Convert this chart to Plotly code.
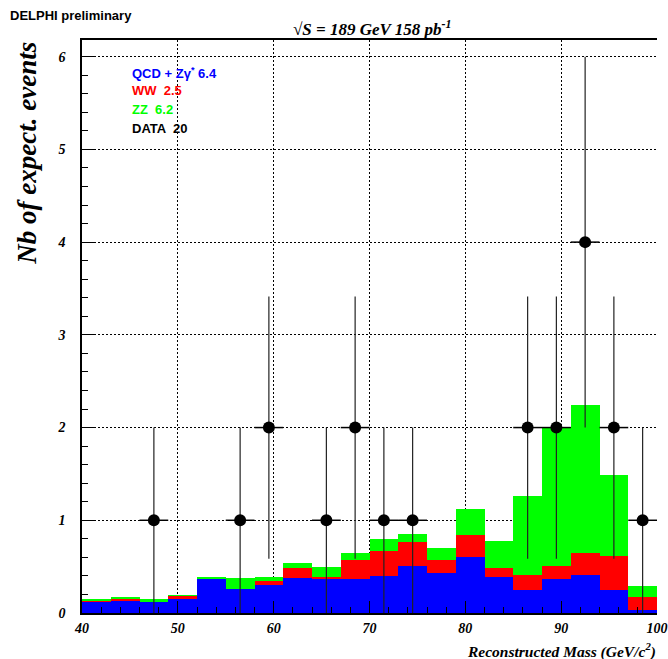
import plotly.graph_objects as go

# ---- data ----
bin_centers = [41.5, 44.5, 47.5, 50.5, 53.5, 56.5, 59.5, 62.5, 65.5, 68.5,
               71.5, 74.5, 77.5, 80.5, 83.5, 86.5, 89.5, 92.5, 95.5, 98.5]
qcd = [0.115, 0.133, 0.115, 0.151, 0.367, 0.26, 0.30, 0.374, 0.37, 0.37,
       0.40, 0.51, 0.436, 0.605, 0.39, 0.25, 0.37, 0.414, 0.25, 0.036]
ww = [0.022, 0.025, 0.0, 0.036, 0.0, 0.0, 0.04, 0.116, 0.02, 0.20,
      0.27, 0.26, 0.14, 0.24, 0.096, 0.164, 0.14, 0.23, 0.36, 0.134]
zz = [0.018, 0.018, 0.04, 0.005, 0.023, 0.12, 0.05, 0.054, 0.11, 0.074,
      0.13, 0.087, 0.124, 0.274, 0.294, 0.846, 1.49, 1.595, 0.875, 0.125]

data_x = [47.5, 56.5, 59.5, 65.5, 68.5, 71.5, 74.5, 86.5, 89.5, 92.5, 95.5, 98.5]
data_y = [1, 1, 2, 1, 2, 1, 1, 2, 2, 4, 2, 1]
data_err = [1.0, 1.0, 1.414, 1.0, 1.414, 1.0, 1.0, 1.414, 1.414, 2.0, 1.414, 1.0]

x_ticks = [40, 50, 60, 70, 80, 90, 100]
y_ticks = [0, 1, 2, 3, 4, 5, 6]

BIN_W = 3
BLUE, RED, GREEN = "#0000ff", "#ff0000", "#00ff00"

fig = go.Figure()
for vals, col in [(qcd, BLUE), (ww, RED), (zz, GREEN)]:
    fig.add_trace(go.Bar(x=bin_centers, y=vals, width=BIN_W,
                         marker=dict(color=col, line=dict(width=0)),
                         showlegend=False, hoverinfo="skip"))

fig.add_trace(go.Scatter(
    x=data_x, y=data_y, mode="markers",
    marker=dict(color="black", size=12, symbol="circle"),
    error_y=dict(type="data", array=data_err, arrayminus=data_err,
                 color="#222222", thickness=1.2, width=0),
    error_x=dict(type="constant", value=BIN_W / 2, color="black",
                 thickness=1.5, width=0),
    showlegend=False, hoverinfo="skip"))

tickfont = dict(family="Liberation Serif", size=14, color="black",
                weight="bold", style="italic")

fig.update_layout(
    width=668, height=659, autosize=False,
    margin=dict(l=82, r=11, t=40, b=46),
    plot_bgcolor="white", paper_bgcolor="white",
    barmode="stack", bargap=0,
    xaxis=dict(range=[40, 100], tickvals=x_ticks, ticktext=[str(v) for v in x_ticks],
               showline=True, linecolor="black", linewidth=1.5, mirror=True,
               ticks="inside", ticklen=12, tickcolor="black", tickwidth=1,
               minor=dict(dtick=2, ticks="inside", ticklen=6, tickcolor="black",
                          showgrid=False),
               showgrid=True, gridcolor="black", griddash="2px,2px", gridwidth=1,
               zeroline=False, tickfont=tickfont, ticklabelstandoff=1,
               automargin=False),
    yaxis=dict(range=[0, 6.18], tickvals=y_ticks, ticktext=[str(v) for v in y_ticks],
               showline=True, linecolor="black", linewidth=1.5,
               ticks="inside", ticklen=12, tickcolor="black", tickwidth=1,
               minor=dict(dtick=0.2, ticks="inside", ticklen=6, tickcolor="black",
                          showgrid=False),
               showgrid=True, gridcolor="black", griddash="2px,2px", gridwidth=1,
               zeroline=False, tickfont=tickfont, ticklabelstandoff=12,
               automargin=False),
)

serif_bi = dict(family="Liberation Serif", color="black", weight="bold", style="italic")
sans_b = dict(family="Liberation Sans", weight="bold")

anns = [
    dict(text="DELPHI preliminary", x=-0.1287, y=1.042, xanchor="left",
         font=dict(size=13, color="black", **sans_b)),
    dict(text="\u221AS = 189 GeV 158 pb<sup>-1</sup>", x=0.505, y=1.021,
         xanchor="center", font=dict(size=17, **serif_bi)),
    dict(text="Nb of expect. events", x=-0.097, y=1.0, xanchor="center",
         yanchor="top", textangle=-90, font=dict(size=27, **serif_bi)),
    dict(text="Reconstructed Mass (GeV/c<sup>2</sup>)", x=1.002, y=-0.066,
         xanchor="right", font=dict(size=15.5, **serif_bi)),
    dict(text="QCD + Z\u03B3<sup>*</sup> 6.4", x=0.084, y=0.943, xanchor="left",
         font=dict(size=13, color=BLUE, **sans_b)),
    dict(text="WW  2.5", x=0.084, y=0.9116, xanchor="left",
         font=dict(size=13, color=RED, **sans_b)),
    dict(text="ZZ  6.2", x=0.084, y=0.878, xanchor="left",
         font=dict(size=13, color=GREEN, **sans_b)),
    dict(text="DATA  20", x=0.084, y=0.846, xanchor="left",
         font=dict(size=13, color="black", **sans_b)),
]
for a in anns:
    a.setdefault("yanchor", "middle")
    fig.add_annotation(xref="paper", yref="paper", showarrow=False, **a)

fig.write_html("out.html")
